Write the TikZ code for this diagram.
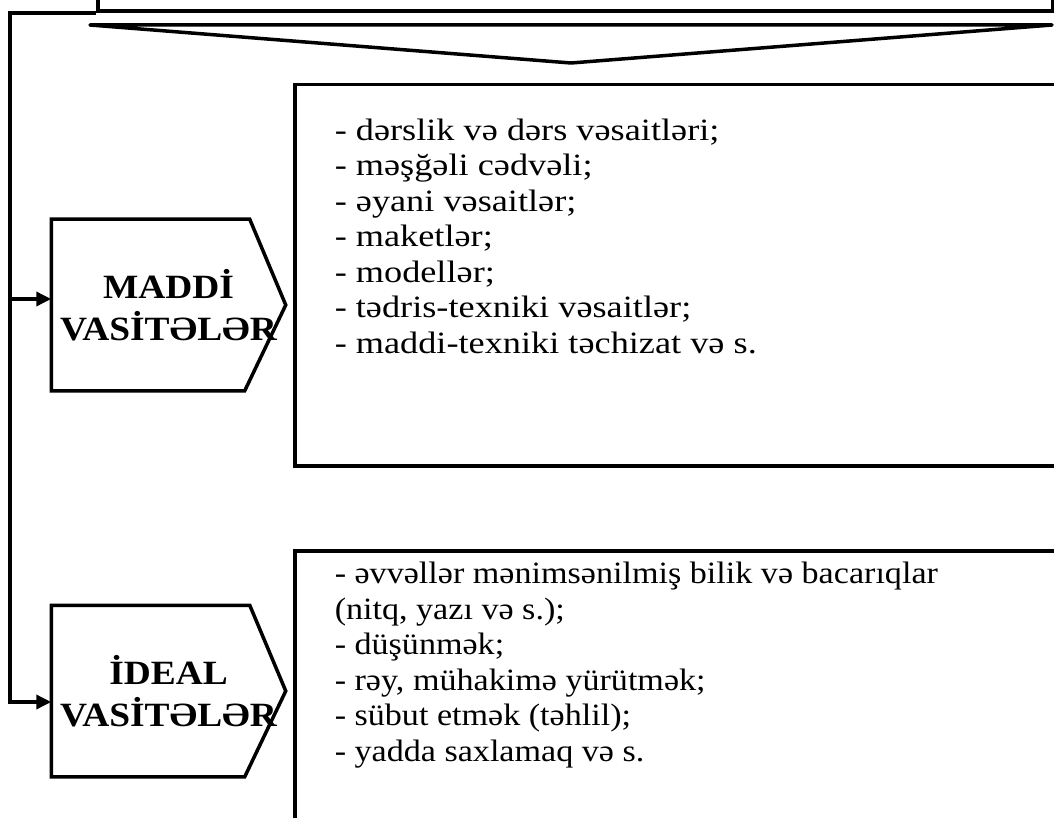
\documentclass[tikz,border=0pt]{standalone}
\usepackage{fontspec}
\setmainfont{Liberation Serif}[FakeStretch=1.17]
\newfontfamily\idealfont{Liberation Serif}[FakeStretch=1.1]
\newfontfamily\headfont{Liberation Serif}[FakeStretch=1.1]
\usetikzlibrary{arrows.meta}

\begin{document}
\begin{tikzpicture}[x=1pt,y=-1pt,line width=3.5pt,every node/.style={font=\fontsize{31}{35.5}\selectfont}]
\tikzstyle{frame}=[draw,line width=3.5pt,inner sep=0pt]
\tikzstyle{headtext}=[font=\headfont\bfseries\fontsize{34}{42}\selectfont,align=center,inner sep=0pt]
\tikzstyle{listtext}=[anchor=base west,align=left,inner sep=0pt]
\tikzstyle{link}=[-{Triangle[length=15pt,width=14pt]},line width=3.5pt]
\useasboundingbox (0,0) rectangle (1054,818);
% source box (cut off at the top)
\node[frame,anchor=south west,minimum width=955pt,minimum height=80pt] (source) at (96,13) {};
% wide arrow pointing down
\draw[line join=round,line cap=round] (90,25) -- (1052,25) -- (571,63) -- cycle;
% list boxes
\node[frame,anchor=north west,minimum width=800pt,minimum height=381pt] (maddibox) at (293,83) {};
\node[frame,anchor=north west,minimum width=800pt,minimum height=320pt] (idealbox) at (293,549) {};
% base anchor = last line
\node[listtext] (maddilist) at (333,353) {- dərslik və dərs vəsaitləri;\\- məşğəli cədvəli;\\- əyani vəsaitlər;\\- maketlər;\\- modellər;\\- tədris-texniki vəsaitlər;\\- maddi-texniki təchizat və s.};
\node[listtext,font=\idealfont\fontsize{31}{35.5}\selectfont] (ideallist) at (333,761) {- əvvəllər mənimsənilmiş bilik və bacarıqlar\\(nitq, yazı və s.);\\- düşünmək;\\- rəy, mühakimə yürütmək;\\- sübut etmək (təhlil);\\- yadda saxlamaq və s.};
% pentagon labels
\node[headtext,minimum width=231pt,minimum height=168pt] (maddi) at (168.5,305) {MADDİ\\VASİTƏLƏR};
\node[headtext,minimum width=231pt,minimum height=168pt] (ideal) at (168.5,691) {İDEAL\\VASİTƏLƏR};
\draw (maddi.north west) -- ([xshift=-36pt]maddi.north east) -- (maddi.east) -- ([xshift=-41pt]maddi.south east) -- (maddi.south west) -- cycle;
\draw (ideal.north west) -- ([xshift=-36pt]ideal.north east) -- (ideal.east) -- ([xshift=-41pt]ideal.south east) -- (ideal.south west) -- cycle;
% connectors
\coordinate (bend) at (10,13);
\coordinate (tomaddi) at (10,299);
\coordinate (toideal) at (10,702);
\draw[link] (source.south west) -- (bend) -- (toideal) -- (toideal -| ideal.west);
\draw[link] (tomaddi) -- (tomaddi -| maddi.west);
\end{tikzpicture}
\end{document}
